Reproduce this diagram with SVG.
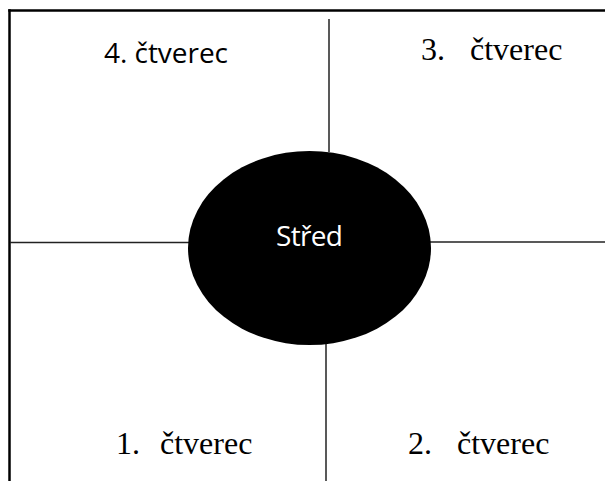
<svg xmlns="http://www.w3.org/2000/svg" width="605" height="481" viewBox="0 0 605 481">
<style>
.frame{stroke:#000;stroke-width:2.5;fill:none}
.line{stroke:#222;stroke-width:1.5;fill:none}
.sans{font-family:'Open Sans','Liberation Sans',sans-serif;font-size:28px;fill:#000}
.serif{font-size:32px;fill:#000}
</style>
<rect width="605" height="481" fill="#fff"/>
<g id="frame">
<line class="frame" x1="8.25" y1="10.5" x2="605" y2="10.5"/>
<line class="frame" x1="9.5" y1="9.25" x2="9.5" y2="481"/>
</g>
<g id="connectors">
<line class="line" x1="329" y1="19" x2="329" y2="152"/>
<line class="line" x1="326" y1="344" x2="326" y2="481"/>
<line class="line" x1="10" y1="242.5" x2="190" y2="242.5"/>
<line class="line" x1="430" y1="242" x2="605" y2="242"/>
</g>
<g id="center">
<ellipse cx="309.5" cy="248" rx="121.5" ry="97" fill="#000"/>
<text class="sans" x="276" y="246" style="fill:#fff" textLength="67">Střed</text>
</g>
<g id="q4"><text class="sans" x="104" y="63" textLength="124">4. čtverec</text></g>
<g id="q3" font-family="Liberation Serif, serif"><text class="serif" x="421" y="60">3.</text><text class="serif" x="470" y="60">čtverec</text></g>
<g id="q1" font-family="Liberation Serif, serif"><text class="serif" x="116" y="454">1.</text><text class="serif" x="160" y="454">čtverec</text></g>
<g id="q2" font-family="Liberation Serif, serif"><text class="serif" x="408" y="454">2.</text><text class="serif" x="457" y="454">čtverec</text></g>
</svg>
